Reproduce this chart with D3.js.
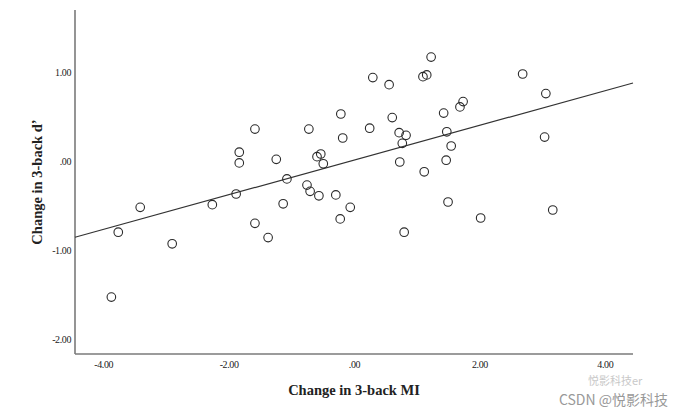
<!DOCTYPE html>
<html>
<head>
<meta charset="utf-8">
<script src="https://cdn.jsdelivr.net/npm/d3@7/dist/d3.min.js"></script>
<style>
  html, body { margin: 0; padding: 0; background: #ffffff; }
  svg { display: block; }
</style>
</head>
<body>
<svg id="chart" width="683" height="411"></svg>
<script>
// ---- data ----
const miChange = [-3.87, -3.76, -3.41, -2.90, -2.26, -1.88, -1.83, -1.83, -1.58, -1.58,
  -1.37, -1.24, -1.13, -1.07, -0.75, -0.72, -0.70, -0.59, -0.56, -0.53,
  -0.49, -0.29, -0.22, -0.21, -0.18, -0.06, 0.25, 0.30, 0.56, 0.61,
  0.72, 0.73, 0.77, 0.80, 0.83, 1.10, 1.12, 1.16, 1.23, 1.43,
  1.47, 1.48, 1.50, 1.55, 1.69, 1.74, 2.02, 2.69, 3.04, 3.06, 3.17];
const dPrimeChange = [-1.53, -0.80, -0.52, -0.93, -0.49, -0.37, 0.10, -0.02, -0.70, 0.36,
  -0.86, 0.02, -0.48, -0.20, -0.27, 0.36, -0.34, 0.05, -0.39, 0.08,
  -0.03, -0.38, -0.65, 0.53, 0.26, -0.52, 0.37, 0.94, 0.86, 0.49,
  0.32, -0.01, 0.20, -0.80, 0.29, 0.95, -0.12, 0.97, 1.17, 0.54,
  0.01, 0.33, -0.46, 0.17, 0.61, 0.67, -0.64, 0.98, 0.27, 0.76, -0.55];
const fitLineX = [-4.45, 4.45];
const fitLineY = [-0.857, 0.879];
const xTickValues = [-4, -2, 0, 2, 4];
const xTickLabels = ["-4.00", "-2.00", ".00", "2.00", "4.00"];
const yTickValues = [1, 0, -1, -2];
const yTickLabels = ["1.00", ".00", "-1.00", "-2.00"];
const xTitle = "Change in 3-back MI";
const yTitle = "Change in 3-back d\u2019";

// ---- layout ----
const svg = d3.select("#chart");
const plotL = 75, plotR = 633, plotT = 10, plotB = 354;

const x = d3.scaleLinear().domain([-4.45, 4.45]).range([plotL, plotR]);
const y = d3.scaleLinear().domain([-2.17, 1.70]).range([plotB, plotT]);

svg.append("rect").attr("width", 683).attr("height", 411).attr("fill", "#ffffff");

// axes
const xAxis = d3.axisBottom(x).tickValues(xTickValues)
  .tickFormat((d, i) => xTickLabels[i]).tickSize(0).tickPadding(7);
const yAxis = d3.axisLeft(y).tickValues(yTickValues)
  .tickFormat((d, i) => yTickLabels[i]).tickSize(0).tickPadding(4);

const gx = svg.append("g").attr("transform", `translate(0,${plotB})`).call(xAxis);
const gy = svg.append("g").attr("transform", `translate(${plotL},0)`).call(yAxis);

[gx, gy].forEach(g => {
  g.select(".domain").attr("stroke", "#7a7a7a").attr("stroke-width", 1.6);
  g.selectAll("text")
    .attr("font-family", "'Liberation Serif', 'Times New Roman', serif")
    .attr("font-size", 10)
    .attr("letter-spacing", -0.4)
    .attr("fill", "#222");
});
gx.select(".domain").attr("d", `M${plotL},0H${plotR}`);
gy.select(".domain").attr("d", `M0,${plotT}V${plotB}`);

// regression line
svg.append("line")
  .attr("x1", x(fitLineX[0])).attr("y1", y(fitLineY[0]))
  .attr("x2", x(fitLineX[1])).attr("y2", y(fitLineY[1]))
  .attr("stroke", "#333").attr("stroke-width", 1.2);

// points
svg.append("g").selectAll("circle")
  .data(miChange.map((v, i) => [v, dPrimeChange[i]]))
  .join("circle")
  .attr("cx", d => x(d[0]))
  .attr("cy", d => y(d[1]))
  .attr("r", 4.3)
  .attr("fill", "none")
  .attr("stroke", "#2a2a2a")
  .attr("stroke-width", 1.1);

// titles
svg.append("text")
  .attr("x", 354).attr("y", 395)
  .attr("text-anchor", "middle")
  .attr("font-family", "'Liberation Serif', 'Times New Roman', serif")
  .attr("font-weight", "bold").attr("font-size", 14.5)
  .attr("fill", "#222")
  .text(xTitle);

svg.append("text")
  .attr("transform", "translate(42,182) rotate(-90)")
  .attr("text-anchor", "middle")
  .attr("font-family", "'Liberation Serif', 'Times New Roman', serif")
  .attr("font-weight", "bold").attr("font-size", 14.5)
  .attr("fill", "#222")
  .text(yTitle);

// watermark
svg.append("text")
  .attr("x", 588).attr("y", 385)
  .attr("font-family", "'Noto Sans CJK SC', sans-serif")
  .attr("font-size", 11).attr("fill", "#bbb").attr("opacity", 0.8)
  .text("\u60a6\u5f71\u79d1\u6280er");
svg.append("text")
  .attr("x", 668).attr("y", 405)
  .attr("text-anchor", "end")
  .attr("font-family", "'Noto Sans CJK SC', 'DejaVu Sans', sans-serif")
  .attr("font-size", 14).attr("fill", "#999")
  .text("CSDN @\u60a6\u5f71\u79d1\u6280");
</script>
</body>
</html>
